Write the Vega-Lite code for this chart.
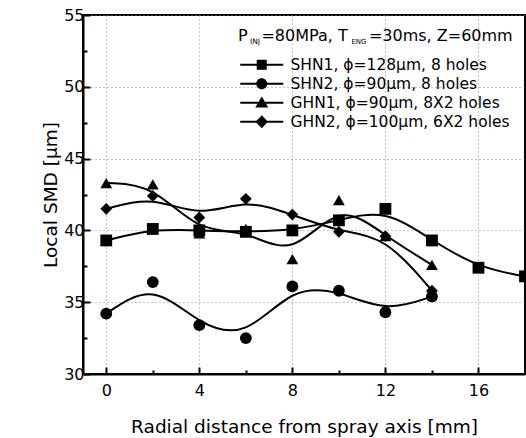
{
  "$schema": "https://vega.github.io/schema/vega-lite/v6.json",
  "width": 442,
  "height": 359,
  "autosize": {"type": "none"},
  "padding": {"left": 83, "top": 15, "right": 1, "bottom": 64},
  "background": "white",
  "config": {
    "font": "DejaVu Sans",
    "view": {"stroke": "black", "strokeWidth": 2},
    "axis": {
      "domainColor": "black",
      "domainWidth": 2,
      "tickColor": "black",
      "tickWidth": 2,
      "labelColor": "black",
      "titleColor": "black",
      "labelFontSize": 16,
      "titleFontSize": 18.5,
      "titleFontWeight": "normal",
      "gridColor": "#888888",
      "gridDash": [1, 3],
      "gridWidth": 1
    }
  },
  "data": {
    "values": [
      {"series": "SHN1, ϕ=128μm, 8 holes", "r": 0, "smd": 39.3},
      {"series": "SHN1, ϕ=128μm, 8 holes", "r": 2, "smd": 40.1},
      {"series": "SHN1, ϕ=128μm, 8 holes", "r": 4, "smd": 40.0},
      {"series": "SHN1, ϕ=128μm, 8 holes", "r": 6, "smd": 39.9},
      {"series": "SHN1, ϕ=128μm, 8 holes", "r": 8, "smd": 40.0},
      {"series": "SHN1, ϕ=128μm, 8 holes", "r": 10, "smd": 40.7},
      {"series": "SHN1, ϕ=128μm, 8 holes", "r": 12, "smd": 41.5},
      {"series": "SHN1, ϕ=128μm, 8 holes", "r": 14, "smd": 39.3},
      {"series": "SHN1, ϕ=128μm, 8 holes", "r": 16, "smd": 37.4},
      {"series": "SHN1, ϕ=128μm, 8 holes", "r": 18, "smd": 36.8},
      {"series": "SHN2, ϕ=90μm, 8 holes", "r": 0, "smd": 34.2},
      {"series": "SHN2, ϕ=90μm, 8 holes", "r": 2, "smd": 36.4},
      {"series": "SHN2, ϕ=90μm, 8 holes", "r": 4, "smd": 33.4},
      {"series": "SHN2, ϕ=90μm, 8 holes", "r": 6, "smd": 32.5},
      {"series": "SHN2, ϕ=90μm, 8 holes", "r": 8, "smd": 36.1},
      {"series": "SHN2, ϕ=90μm, 8 holes", "r": 10, "smd": 35.8},
      {"series": "SHN2, ϕ=90μm, 8 holes", "r": 12, "smd": 34.3},
      {"series": "SHN2, ϕ=90μm, 8 holes", "r": 14, "smd": 35.4},
      {"series": "GHN1, ϕ=90μm, 8X2 holes", "r": 0, "smd": 43.3},
      {"series": "GHN1, ϕ=90μm, 8X2 holes", "r": 2, "smd": 43.2},
      {"series": "GHN1, ϕ=90μm, 8X2 holes", "r": 4, "smd": 39.8},
      {"series": "GHN1, ϕ=90μm, 8X2 holes", "r": 6, "smd": 40.1},
      {"series": "GHN1, ϕ=90μm, 8X2 holes", "r": 8, "smd": 38.0},
      {"series": "GHN1, ϕ=90μm, 8X2 holes", "r": 10, "smd": 42.1},
      {"series": "GHN1, ϕ=90μm, 8X2 holes", "r": 12, "smd": 39.6},
      {"series": "GHN1, ϕ=90μm, 8X2 holes", "r": 14, "smd": 37.6},
      {"series": "GHN2, ϕ=100μm, 6X2 holes", "r": 0, "smd": 41.5},
      {"series": "GHN2, ϕ=100μm, 6X2 holes", "r": 2, "smd": 42.4},
      {"series": "GHN2, ϕ=100μm, 6X2 holes", "r": 4, "smd": 40.9},
      {"series": "GHN2, ϕ=100μm, 6X2 holes", "r": 6, "smd": 42.2},
      {"series": "GHN2, ϕ=100μm, 6X2 holes", "r": 8, "smd": 41.1},
      {"series": "GHN2, ϕ=100μm, 6X2 holes", "r": 10, "smd": 39.9},
      {"series": "GHN2, ϕ=100μm, 6X2 holes", "r": 12, "smd": 39.6},
      {"series": "GHN2, ϕ=100μm, 6X2 holes", "r": 14, "smd": 35.8}
    ]
  },
  "encoding": {
    "x": {
      "field": "r",
      "type": "quantitative",
      "scale": {"domain": [-1, 18], "nice": false, "zero": false},
      "axis": {
        "title": "Radial distance from spray axis [mm]",
        "values": [0, 2, 4, 6, 8, 10, 12, 14, 16],
        "labelExpr": "datum.value % 4 === 0 ? datum.label : ''",
        "grid": true,
        "gridOpacity": {"condition": {"test": "datum.value % 4 === 0", "value": 1}, "value": 0},
        "tickSize": {"condition": {"test": "datum.value % 4 === 0", "value": -7}, "value": -4},
        "labelPadding": 15,
        "titlePadding": 19
      }
    },
    "y": {
      "field": "smd",
      "type": "quantitative",
      "scale": {"domain": [30, 55], "nice": false, "zero": false},
      "axis": {
        "title": "Local SMD [μm]",
        "values": [30, 32.5, 35, 37.5, 40, 42.5, 45, 47.5, 50, 52.5, 55],
        "labelExpr": "datum.value % 5 === 0 ? datum.label : ''",
        "grid": true,
        "gridOpacity": {"condition": {"test": "datum.value % 5 === 0", "value": 1}, "value": 0},
        "tickSize": {"condition": {"test": "datum.value % 5 === 0", "value": -7}, "value": -4},
        "labelPadding": 6,
        "titlePadding": 3
      }
    }
  },
  "layer": [
    {
      "mark": {"type": "line", "interpolate": "basis", "color": "black", "strokeWidth": 2, "clip": true},
      "encoding": {"detail": {"field": "series"}}
    },
    {
      "transform": [{"filter": "datum.series == 'SHN1, ϕ=128μm, 8 holes'"}],
      "mark": {"type": "point", "shape": "square", "filled": true, "color": "black", "size": 140, "opacity": 1, "clip": true}
    },
    {
      "transform": [{"filter": "datum.series == 'SHN2, ϕ=90μm, 8 holes'"}],
      "mark": {"type": "point", "shape": "circle", "filled": true, "color": "black", "size": 140, "opacity": 1, "clip": true}
    },
    {
      "transform": [{"filter": "datum.series == 'GHN1, ϕ=90μm, 8X2 holes'"}],
      "mark": {"type": "point", "shape": "triangle-up", "filled": true, "color": "black", "size": 140, "opacity": 1, "clip": true}
    },
    {
      "transform": [{"filter": "datum.series == 'GHN2, ϕ=100μm, 6X2 holes'"}],
      "mark": {"type": "point", "shape": "diamond", "filled": true, "color": "black", "size": 140, "opacity": 1, "clip": true}
    },
    {
      "mark": {"type": "point", "filled": true, "color": "black", "opacity": 0},
      "encoding": {
        "shape": {
          "field": "series",
          "type": "nominal",
          "sort": ["SHN1, ϕ=128μm, 8 holes", "SHN2, ϕ=90μm, 8 holes", "GHN1, ϕ=90μm, 8X2 holes", "GHN2, ϕ=100μm, 6X2 holes"],
          "scale": {"range": [
            "M-4.3,-0.2L-0.9,-0.2L-0.9,0.2L-4.3,0.2Z M0.9,-0.2L4.3,-0.2L4.3,0.2L0.9,0.2Z M-1.0,-1.0L1.0,-1.0L1.0,1.0L-1.0,1.0Z",
            "M-4.3,-0.2L-1.0,-0.2L-1.0,0.2L-4.3,0.2Z M1.0,-0.2L4.3,-0.2L4.3,0.2L1.0,0.2Z M-1.1,0A1.1,1.1 0 1,1 1.1,0A1.1,1.1 0 1,1 -1.1,0Z",
            "M-4.3,-0.2L-0.7,-0.2L-0.7,0.2L-4.3,0.2Z M0.7,-0.2L4.3,-0.2L4.3,0.2L0.7,0.2Z M0,-1.25L1.3,0.95L-1.3,0.95Z",
            "M-4.3,-0.2L-1.1,-0.2L-1.1,0.2L-4.3,0.2Z M1.1,-0.2L4.3,-0.2L4.3,0.2L1.1,0.2Z M0,-1.3L1.25,0L0,1.3L-1.25,0Z"
          ]},
          "legend": {
            "title": null,
            "orient": "none",
            "legendX": 171,
            "legendY": 42,
            "padding": 0,
            "symbolSize": 100,
            "symbolOpacity": 1,
            "symbolFillColor": "black",
            "symbolStrokeWidth": 0,
            "labelFontSize": 15.5,
            "labelColor": "black",
            "labelOffset": 21,
            "rowPadding": 2,
            "labelLimit": 400
          }
        }
      }
    },
    {
      "transform": [{"filter": "datum.r == 18"}],
      "mark": {"type": "text", "align": "left", "baseline": "alphabetic", "fontSize": 16, "color": "black", "dx": 0},
      "encoding": {"x": {"datum": 5.66}, "y": {"datum": 53.22}, "text": {"value": "P"}}
    },
    {
      "transform": [{"filter": "datum.r == 18"}],
      "mark": {"type": "text", "align": "left", "baseline": "alphabetic", "fontSize": 7.5, "color": "black", "dx": 12, "dy": 3},
      "encoding": {"x": {"datum": 5.66}, "y": {"datum": 53.22}, "text": {"value": "INJ"}}
    },
    {
      "transform": [{"filter": "datum.r == 18"}],
      "mark": {"type": "text", "align": "left", "baseline": "alphabetic", "fontSize": 16, "color": "black", "dx": 23.5},
      "encoding": {"x": {"datum": 5.66}, "y": {"datum": 53.22}, "text": {"value": "=80MPa, T"}}
    },
    {
      "transform": [{"filter": "datum.r == 18"}],
      "mark": {"type": "text", "align": "left", "baseline": "alphabetic", "fontSize": 7, "color": "black", "dx": 113.5, "dy": 3},
      "encoding": {"x": {"datum": 5.66}, "y": {"datum": 53.22}, "text": {"value": "ENG"}}
    },
    {
      "transform": [{"filter": "datum.r == 18"}],
      "mark": {"type": "text", "align": "left", "baseline": "alphabetic", "fontSize": 16, "color": "black", "dx": 131},
      "encoding": {"x": {"datum": 5.66}, "y": {"datum": 53.22}, "text": {"value": "=30ms, Z=60mm"}}
    }
  ]
}
